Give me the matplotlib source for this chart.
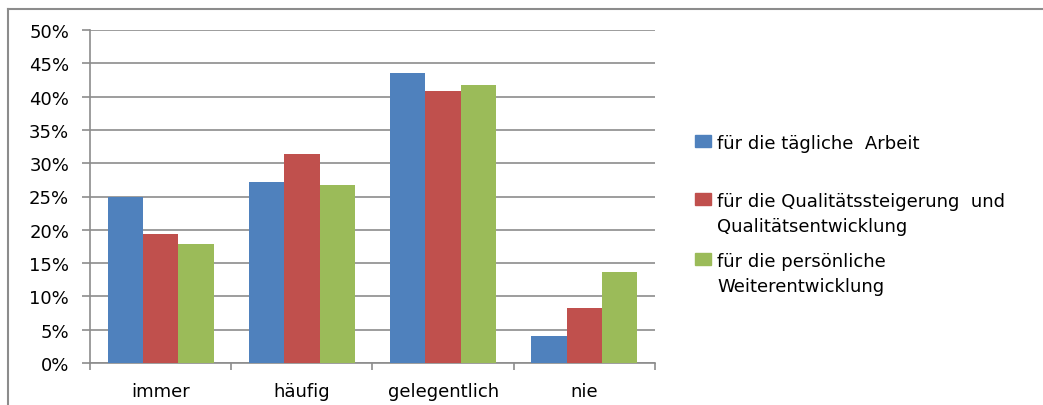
import numpy as np
import matplotlib.pyplot as plt
from matplotlib.patches import Rectangle
from matplotlib.lines import Line2D

plt.rcParams['font.family'] = ['DejaVu Sans']

categories = ['immer', 'häufig', 'gelegentlich', 'nie']
series_names = [['für die tägliche  Arbeit'],
                ['für die Qualitätssteigerung  und', 'Qualitätsentwicklung'],
                ['für die persönliche', 'Weiterentwicklung']]
taegliche_arbeit = [25.0, 27.2, 43.5, 4.05]
qualitaet = [19.3, 31.4, 40.8, 8.26]
persoenlich = [17.8, 26.8, 41.7, 13.6]
colors = ['#4F81BD', '#C0504D', '#9BBB59']

W, H = 1043, 406
fs = 13
fig = plt.figure(figsize=(W / 100, H / 100), dpi=100)
ax = fig.add_axes([90 / W, (H - 364) / H, 565 / W, 333 / H])

x = np.arange(len(categories))
bw = 0.25
for i, vals in enumerate([taegliche_arbeit, qualitaet, persoenlich]):
    ax.bar(x + (i - 1) * bw, vals, bw, color=colors[i], edgecolor='none', zorder=3)

ax.set_xlim(-0.5, 3.5)
ax.set_ylim(0, 50)
ax.set_yticks(range(0, 51, 5))
ax.set_yticklabels([f'{v}%' for v in range(0, 51, 5)])
ax.yaxis.grid(True, color='#8c8c8c', linewidth=1.2, zorder=0)

ax.set_xticks(x)
ax.set_xticklabels(categories)
ax.set_xticks(np.arange(-0.5, 4, 1), minor=True)
ax.tick_params(axis='x', which='major', length=0, pad=14, labelsize=fs)
ax.tick_params(axis='x', which='minor', length=5, width=1.2, color='#8c8c8c', direction='out')
ax.tick_params(axis='y', length=6, width=1.2, color='#8c8c8c', pad=9, labelsize=fs)

for s in ['top', 'right']:
    ax.spines[s].set_visible(False)
for s in ['left', 'bottom']:
    ax.spines[s].set_color('#8c8c8c')
    ax.spines[s].set_linewidth(1.2)

# legend
leg_y = [142, 200, 260]
for i, lines in enumerate(series_names):
    yc = leg_y[i]
    fig.add_artist(Rectangle((695 / W, 1 - (yc + 6) / H), 16 / W, 12 / H,
                             transform=fig.transFigure, color=colors[i]))
    for k, line in enumerate(lines):
        fig.text(717 / W, 1 - (yc + 25 * k) / H, line, fontsize=fs, va='center_baseline',
                 ha='left')

# outer frame
fig.add_artist(Line2D([8 / W, 1], [1 - 10 / H, 1 - 10 / H], transform=fig.transFigure,
                      color='#8c8c8c', linewidth=1.5))
fig.add_artist(Line2D([8 / W, 8 / W], [0, 1 - 10 / H], transform=fig.transFigure,
                      color='#8c8c8c', linewidth=1.5))

fig.savefig('out.png', dpi=100)
